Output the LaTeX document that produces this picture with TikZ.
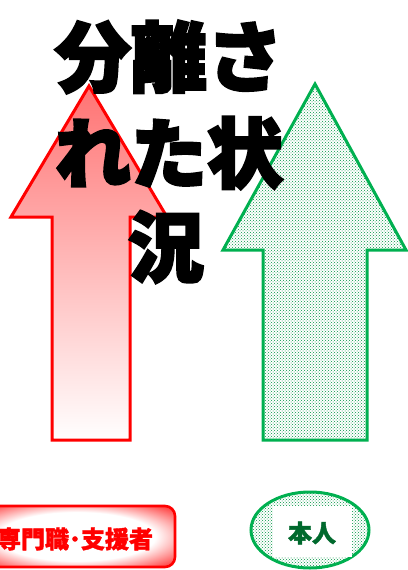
\documentclass[tikz,border=0pt]{standalone}
\usepackage{fontspec}
\usetikzlibrary{patterns,shapes.geometric}
\newfontfamily\jpheavy[FakeBold=3.5]{Noto Sans CJK JP}
\newfontfamily\jpbold[FakeBold=1.5]{Noto Sans CJK JP}
\definecolor{arrowred}{RGB}{255,0,0}
\definecolor{arrowgreen}{RGB}{0,176,80}
\definecolor{textgreen}{RGB}{0,105,45}
\pgfdeclareradialshading{boxglow}{\pgfpoint{0bp}{0bp}}{color(0bp)=(white); color(20bp)=(white); color(38bp)=(red); color(50bp)=(red)}
\tikzset{
  redarrow/.style={draw=arrowred, line width=3pt, line join=miter, top color=red!55!white, bottom color=white},
  greenarrow/.style={draw=arrowgreen, line width=3pt, line join=miter, pattern=crosshatch dots, pattern color=arrowgreen!85!black},
  titletext/.style={font=\jpheavy\bfseries\fontsize{76}{76}\selectfont, text=black, inner sep=0pt},
}
\begin{document}
\begin{tikzpicture}[x=1pt,y=-1pt]
\useasboundingbox (0,0) rectangle (407,570);
% red arrow
\draw[redarrow] (89,86) -- (167,217) -- (130,217) -- (130,440) -- (52,440) -- (52,217) -- (11,217) -- cycle;
% green arrow
\fill[white] (315,84) -- (406,250) -- (367,250) -- (367,440) -- (263,440) -- (263,250) -- (223,250) -- cycle;
\draw[greenarrow] (315,84) -- (406,250) -- (367,250) -- (367,440) -- (263,440) -- (263,250) -- (223,250) -- cycle;
% title
\node[titletext] (t1) at (169,57) {分離さ};
\node[titletext] (t2) at (169,153) {れた状};
\node[titletext] (t3) at (166,247) {況};
% professional box
\draw[draw=arrowred, line width=2.6pt, rounded corners=10pt, shading=boxglow] (-22,506) rectangle (175,567);
\node[font=\jpbold\bfseries\fontsize{24}{24}\selectfont, text=arrowred, inner sep=0pt] (pro) at (75,539) {専門職･支援者};
% person ellipse
\fill[white] (310,530) ellipse (59pt and 38pt);
\draw[draw=arrowgreen, line width=3pt, pattern=crosshatch dots, pattern color=arrowgreen!85!black] (310,530) ellipse (59pt and 38pt);
\fill[white] (273,506) rectangle (352,557);
\node[font=\jpbold\bfseries\fontsize{24}{24}\selectfont, text=textgreen, inner sep=0pt] (self) at (312,533) {本人};
\end{tikzpicture}
\end{document}
